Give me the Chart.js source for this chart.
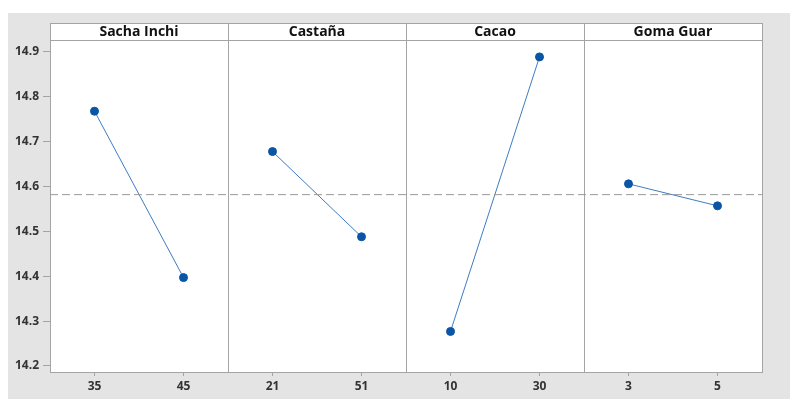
<!DOCTYPE html>
<html>
<head>
<meta charset="utf-8">
<script src="https://cdn.jsdelivr.net/npm/chart.js@4.4.1/dist/chart.umd.min.js"></script>
<style>
  html, body { margin: 0; padding: 0; background: #fff; }
  #wrap { position: absolute; left: 8px; top: 13px; width: 782px; height: 386px; }
</style>
</head>
<body>
<div id="wrap"><canvas id="effectsChart"></canvas></div>
<script>
const factors = ['Sacha Inchi', 'Castaña', 'Cacao', 'Goma Guar'];
const levels = [['35', '45'], ['21', '51'], ['10', '30'], ['3', '5']];
const levelMeans = [[14.768, 14.397], [14.678, 14.488], [14.277, 14.889], [14.606, 14.557]];
const overallMean = 14.582;
const yTicks = [14.2, 14.3, 14.4, 14.5, 14.6, 14.7, 14.8, 14.9];

const frameColor = '#a4a4a4';
const headerHeight = 17;

// each factor gets two x units; levels sit at the quarter points
const tickLabels = {};
levels.forEach((lv, i) => {
    tickLabels[i * 2 + 0.5] = lv[0];
    tickLabels[i * 2 + 1.5] = lv[1];
});

const datasets = levelMeans.map((vals, i) => ({
    label: factors[i],
    data: vals.map((v, j) => ({ x: i * 2 + 0.5 + j, y: v })),
    borderColor: '#3f7cc4',
    borderWidth: 1,
    pointRadius: 4,
    pointBackgroundColor: '#0a55a5',
    pointBorderColor: '#0a55a5',
    pointBorderWidth: 1,
    tension: 0
}));

datasets.unshift({
    label: 'Media',
    data: [{ x: 0, y: overallMean }, { x: factors.length * 2, y: overallMean }],
    borderColor: '#9a9a9a',
    borderWidth: 1,
    borderDash: [8, 4],
    pointRadius: 0
});

const panelFrame = {
    id: 'panelFrame',
    beforeDraw(chart) {
        const ctx = chart.ctx;
        const a = chart.chartArea;
        ctx.save();
        ctx.fillStyle = '#e4e4e4';
        ctx.fillRect(0, 0, chart.width, chart.height);
        ctx.fillStyle = '#ffffff';
        ctx.fillRect(a.left, a.top - headerHeight, a.right - a.left, a.bottom - a.top + headerHeight);
        ctx.restore();
    },
    beforeDatasetsDraw(chart) {
        const ctx = chart.ctx;
        const a = chart.chartArea;
        const x = chart.scales.x;
        const top = a.top - headerHeight;
        ctx.save();
        ctx.strokeStyle = frameColor;
        ctx.lineWidth = 1;
        ctx.strokeRect(a.left + 0.5, top + 0.5, a.right - a.left, a.bottom - top);
        ctx.beginPath();
        ctx.moveTo(a.left, a.top + 0.5);
        ctx.lineTo(a.right, a.top + 0.5);
        for (let i = 1; i < factors.length; i++) {
            const px = Math.round(x.getPixelForValue(i * 2)) + 0.5;
            ctx.moveTo(px, top);
            ctx.lineTo(px, a.bottom);
        }
        ctx.stroke();

        ctx.fillStyle = '#111';
        ctx.font = 'bold 14px "Open Sans", sans-serif';
        ctx.textAlign = 'center';
        ctx.textBaseline = 'middle';
        factors.forEach((f, i) => {
            ctx.fillText(f, x.getPixelForValue(i * 2 + 1), top + headerHeight / 2 + 1);
        });
        ctx.restore();
    }
};

new Chart(document.getElementById('effectsChart'), {
    type: 'line',
    data: { datasets: datasets },
    options: {
        responsive: true,
        maintainAspectRatio: false,
        animation: false,
        layout: {
            padding: { top: 27, right: 28, left: 0, bottom: 0 }
        },
        plugins: {
            legend: { display: false },
            tooltip: { enabled: false }
        },
        scales: {
            x: {
                type: 'linear',
                min: 0,
                max: factors.length * 2,
                afterBuildTicks: (scale) => {
                    scale.ticks = Object.keys(tickLabels).map(v => ({ value: Number(v) }));
                },
                afterFit: (scale) => { scale.height = 27; },
                ticks: {
                    autoSkip: false,
                    maxRotation: 0,
                    padding: 3,
                    color: '#333',
                    font: { family: '"Open Sans", sans-serif', size: 12, weight: 'bold' },
                    callback: (v) => tickLabels[v]
                },
                grid: { drawOnChartArea: false, tickLength: 4, color: frameColor },
                border: { color: frameColor }
            },
            y: {
                min: 14.1866,
                max: 14.9267,
                afterBuildTicks: (scale) => {
                    scale.ticks = yTicks.map(v => ({ value: v }));
                },
                afterFit: (scale) => { scale.width = 42; },
                ticks: {
                    padding: 4,
                    color: '#333',
                    font: { family: '"Open Sans", sans-serif', size: 12, weight: 'bold' },
                    callback: (v) => v.toFixed(1)
                },
                grid: { drawOnChartArea: false, tickLength: 7, color: frameColor },
                border: { color: frameColor }
            }
        }
    },
    plugins: [panelFrame]
});
</script>
</body>
</html>
